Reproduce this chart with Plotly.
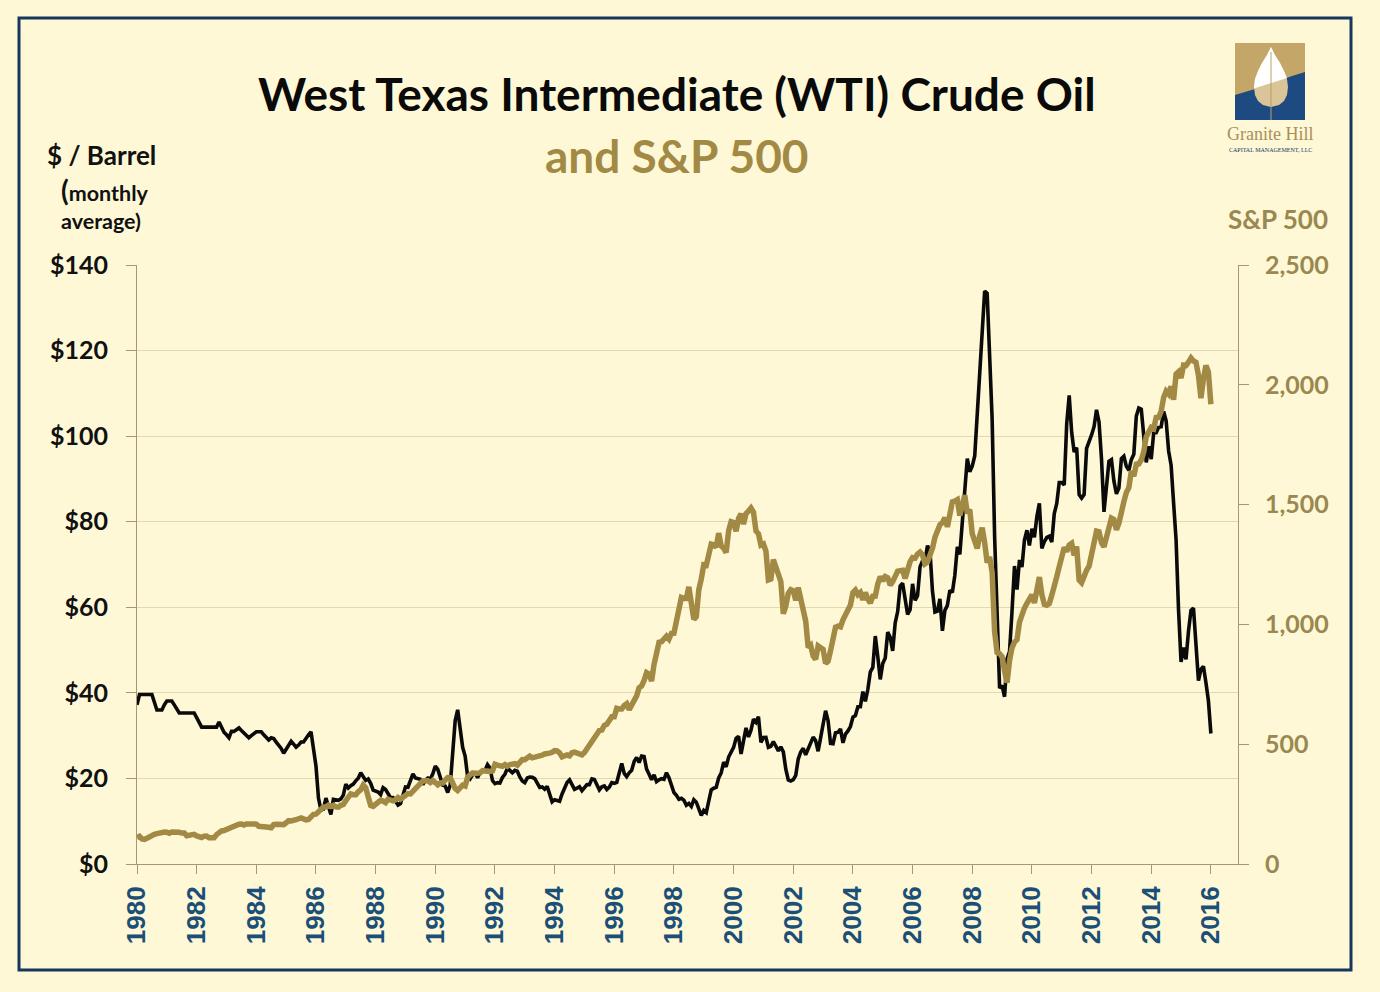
import plotly.graph_objects as go

# ---------------- data (monthly, Jan 1980 .. Jan 2016) ----------------
wti_1980s = [
    37.2, 39.6, 39.6, 39.6, 39.6, 39.6, 39.6, 37.8, 36.0, 36.0, 36.0, 37.2,
    38.1, 38.1, 38.1, 37.2, 36.2, 35.3, 35.3, 35.3, 35.3, 35.3, 35.3, 35.3,
    34.2, 33.0, 32.0, 32.0, 32.0, 32.0, 32.0, 32.0, 32.0, 33.2, 31.8, 30.8,
    30.2, 29.5, 31.0, 31.0, 31.4, 31.8, 31.2, 30.6, 30.0, 29.5, 30.0, 30.5,
    30.9, 30.9, 30.9, 30.2, 29.6, 29.0, 29.5, 29.3, 28.5, 27.8, 27.0, 25.9,
    26.8, 28.0, 28.7, 28.0, 27.3, 27.8, 28.5, 28.5, 29.5, 30.2, 30.9, 27.5,
    22.9, 15.4, 12.6, 12.8, 15.4, 13.5, 11.6, 15.1, 14.9, 14.9, 15.2, 16.1,
    18.65, 17.75, 18.3, 18.68, 19.44, 20.07, 21.34, 20.31, 19.53, 19.86, 18.85, 17.28,
    17.13, 16.8, 16.2, 17.86, 17.42, 16.53, 15.5, 15.52, 14.54, 13.77, 14.14, 16.38,
    18.02, 17.94, 19.48, 21.07, 20.12, 20.05, 19.78, 18.58, 19.59, 20.1, 19.86, 21.1,
]
wti_1990s = [
    22.86, 22.11, 20.39, 18.43, 18.2, 16.7, 18.45, 27.31, 33.51, 36.04, 32.33, 27.28,
    25.23, 20.48, 19.9, 20.83, 21.23, 20.19, 21.4, 21.69, 21.89, 23.23, 22.46, 19.5,
    18.79, 19.01, 18.92, 20.23, 20.98, 22.39, 21.78, 21.34, 21.88, 21.69, 20.34, 19.41,
    19.03, 20.09, 20.32, 20.25, 19.95, 19.09, 17.89, 18.01, 17.5, 18.15, 16.61, 14.52,
    15.03, 14.78, 14.66, 16.38, 17.89, 19.06, 19.66, 18.38, 17.45, 17.72, 18.07, 17.16,
    18.04, 18.57, 18.54, 19.9, 19.74, 18.45, 17.33, 18.02, 18.23, 17.43, 17.99, 19.03,
    18.86, 19.09, 21.33, 23.5, 21.17, 20.42, 21.3, 21.9, 23.97, 24.88, 23.71, 25.23,
    25.13, 22.18, 20.97, 19.7, 20.82, 19.26, 19.66, 19.95, 19.8, 21.33, 20.19, 18.33,
    16.72, 16.06, 15.12, 15.35, 14.91, 13.72, 14.17, 13.47, 15.03, 14.46, 13.0, 11.35,
    12.52, 12.01, 14.68, 17.31, 17.72, 17.92, 20.1, 21.28, 23.8, 22.69, 25.0, 26.1,
]
wti_2000s = [
    27.26, 29.37, 29.84, 25.72, 28.79, 31.82, 29.7, 31.26, 33.88, 33.11, 34.42, 28.44,
    29.59, 29.61, 27.25, 27.49, 28.63, 27.6, 26.43, 27.37, 26.2, 22.17, 19.64, 19.39,
    19.72, 20.72, 24.53, 26.18, 27.04, 25.52, 26.97, 28.39, 29.66, 28.84, 26.35, 29.46,
    32.95, 35.83, 33.51, 28.17, 28.11, 30.66, 30.76, 31.57, 28.31, 30.34, 31.11, 32.13,
    34.31, 34.69, 36.74, 36.75, 40.28, 38.03, 40.78, 44.9, 45.94, 53.28, 48.47, 43.15,
    46.84, 48.15, 54.19, 52.98, 49.83, 56.35, 59.0, 64.99, 65.59, 62.26, 58.32, 59.41,
    65.49, 61.63, 62.69, 69.44, 70.84, 70.95, 74.41, 73.04, 63.8, 58.89, 59.08, 61.96,
    54.51, 59.28, 60.44, 63.98, 63.46, 67.49, 74.12, 72.36, 79.92, 85.8, 94.77, 91.69,
    92.97, 95.39, 105.45, 112.58, 125.4, 133.88, 133.37, 116.67, 104.11, 76.61, 57.31, 41.12,
    41.71, 39.09, 47.94, 49.65, 59.03, 69.64, 64.15, 71.05, 69.41, 75.72, 77.99, 74.47,
]
wti_2010s = [
    78.33, 76.39, 81.2, 84.29, 73.74, 75.34, 76.32, 76.6, 75.24, 81.89, 84.25, 89.15,
    89.17, 88.58, 102.86, 109.53, 100.9, 96.26, 97.3, 86.33, 85.52, 86.32, 97.16, 98.56,
    100.27, 102.2, 106.16, 103.32, 94.66, 82.3, 87.9, 94.13, 94.51, 89.49, 86.53, 87.86,
    94.76, 95.31, 92.94, 92.02, 94.51, 95.77, 104.67, 106.57, 106.29, 100.54, 93.86, 97.63,
    94.62, 100.82, 100.8, 102.07, 102.18, 105.79, 103.59, 96.54, 93.21, 84.4, 75.79, 59.29,
    47.22, 50.58, 47.82, 54.45, 59.27, 59.82, 50.9, 42.87, 45.48, 46.22, 42.44, 38.2,
    30.5,
]

sp_1980s = [
    110.9, 115.3, 104.7, 103.0, 107.7, 114.6, 119.8, 123.5, 126.5, 130.2, 135.7, 133.5,
    133.0, 128.4, 133.2, 134.4, 131.7, 132.3, 129.1, 129.6, 118.3, 119.8, 122.9, 123.8,
    117.3, 114.5, 110.8, 116.3, 116.4, 109.7, 109.4, 109.7, 122.4, 132.7, 138.1, 139.4,
    144.3, 146.8, 151.9, 157.7, 164.1, 166.4, 167.0, 162.4, 167.2, 167.7, 165.2, 164.4,
    166.4, 157.3, 157.4, 157.6, 156.6, 153.1, 151.1, 164.4, 166.1, 164.8, 166.3, 164.5,
    171.6, 180.9, 179.4, 180.6, 184.9, 188.9, 192.5, 188.3, 184.1, 186.2, 197.5, 207.3,
    208.2, 219.4, 232.3, 238.0, 238.5, 245.3, 240.2, 245.0, 238.3, 237.4, 245.1, 248.6,
    264.5, 280.9, 292.5, 289.3, 289.1, 301.4, 310.1, 329.4, 318.7, 280.2, 245.0, 241.0,
    250.5, 258.1, 265.7, 262.6, 256.1, 270.7, 269.1, 263.7, 268.0, 277.4, 271.0, 276.5,
    285.4, 294.0, 292.7, 302.3, 313.9, 323.7, 331.9, 346.6, 347.3, 347.4, 340.2, 348.6,
]
sp_1990s = [
    340.0, 330.5, 338.5, 338.2, 350.3, 360.4, 360.0, 330.8, 315.4, 307.1, 315.3, 328.8,
    325.5, 362.3, 372.3, 379.7, 378.0, 378.3, 380.2, 389.4, 387.2, 386.9, 385.9, 388.5,
    416.1, 412.6, 407.4, 407.4, 414.8, 408.3, 415.1, 417.9, 418.5, 412.5, 422.8, 435.6,
    435.2, 441.7, 450.2, 443.1, 445.3, 448.1, 447.3, 454.1, 459.2, 463.9, 462.9, 466.0,
    473.0, 471.6, 463.8, 447.2, 450.9, 454.8, 451.4, 464.2, 467.0, 463.8, 461.0, 455.2,
    465.3, 481.9, 493.2, 507.9, 523.8, 539.4, 557.4, 559.1, 578.8, 582.9, 595.5, 614.6,
    614.4, 649.5, 647.1, 647.2, 661.2, 668.5, 644.1, 662.7, 674.9, 701.5, 735.7, 743.3,
    766.2, 798.4, 792.2, 763.9, 833.1, 876.3, 925.3, 927.7, 937.0, 951.2, 938.9, 962.4,
    963.4, 1023.7, 1076.8, 1112.2, 1108.4, 1108.4, 1156.6, 1074.6, 1020.6, 1032.5, 1144.4, 1190.1,
    1248.8, 1246.6, 1281.7, 1334.8, 1332.1, 1322.6, 1381.0, 1327.5, 1318.2, 1300.0, 1391.0, 1428.7,
]
sp_2000s = [
    1425.6, 1388.9, 1442.2, 1461.4, 1418.5, 1462.0, 1473.0, 1485.5, 1468.1, 1390.1, 1378.0, 1330.9,
    1335.6, 1305.8, 1185.9, 1189.8, 1270.4, 1238.7, 1204.5, 1178.5, 1044.6, 1076.6, 1129.7, 1144.9,
    1140.2, 1100.7, 1153.8, 1112.0, 1079.3, 1014.0, 903.6, 912.6, 867.8, 854.6, 909.9, 899.2,
    895.8, 837.6, 846.6, 890.0, 936.0, 988.0, 992.5, 989.5, 1019.4, 1038.7, 1049.9, 1080.6,
    1132.5, 1143.4, 1124.0, 1133.1, 1102.8, 1132.8, 1105.9, 1088.9, 1117.7, 1118.1, 1168.9, 1199.2,
    1181.4, 1199.6, 1194.9, 1164.4, 1178.3, 1202.3, 1222.2, 1224.3, 1225.9, 1192.0, 1237.4, 1262.1,
    1278.7, 1276.7, 1293.7, 1302.2, 1290.0, 1253.1, 1260.2, 1287.2, 1317.8, 1363.4, 1388.6, 1416.4,
    1424.2, 1444.8, 1407.0, 1463.7, 1511.1, 1514.5, 1520.7, 1454.6, 1497.1, 1539.7, 1463.4, 1479.2,
    1378.8, 1354.9, 1316.9, 1370.5, 1403.2, 1341.3, 1257.3, 1281.5, 1217.0, 968.8, 883.0, 877.6,
    865.6, 805.2, 757.1, 848.2, 902.4, 926.1, 935.8, 1009.7, 1044.6, 1067.7, 1088.1, 1110.4,
]
sp_2010s = [
    1123.6, 1089.2, 1152.0, 1197.3, 1125.1, 1083.4, 1079.8, 1087.3, 1122.1, 1171.6, 1198.9, 1241.5,
    1282.6, 1321.1, 1304.5, 1331.5, 1338.3, 1287.3, 1325.2, 1185.3, 1173.9, 1207.2, 1226.4, 1243.3,
    1300.6, 1352.5, 1389.2, 1386.4, 1341.3, 1323.5, 1359.8, 1403.4, 1443.4, 1437.8, 1394.5, 1422.3,
    1480.4, 1512.3, 1550.8, 1570.7, 1639.8, 1618.8, 1668.7, 1670.1, 1687.2, 1720.0, 1783.5, 1807.8,
    1822.4, 1817.0, 1863.5, 1864.3, 1889.8, 1947.1, 1973.1, 1961.5, 1993.2, 1937.3, 2044.6, 2054.3,
    2028.2, 2082.2, 2080.6, 2094.9, 2111.9, 2099.3, 2094.1, 2039.9, 1944.4, 2024.8, 2080.6, 2054.1,
    1918.6,
]

year_ticks = list(range(1980, 2017, 2))
year_labels = [str(y) for y in year_ticks]
oil_ticks = [0, 20, 40, 60, 80, 100, 120, 140]
oil_labels = ["$0", "$20", "$40", "$60", "$80", "$100", "$120", "$140"]
sp_ticks = [0, 500, 1000, 1500, 2000, 2500]
sp_labels = ["0", "500", "1,000", "1,500", "2,000", "2,500"]

wti = wti_1980s + wti_1990s + wti_2000s + wti_2010s
sp500 = sp_1980s + sp_1990s + sp_2000s + sp_2010s
months = [1980 + i / 12 for i in range(len(wti))]

# ---------------- style ----------------
BG = "#FEF8D6"
GOLD = "#A28A45"
NAVY = "#17375E"
AXIS = "#A59874"
GRID = "#E2D8B2"
FONT = "Lato"

L, R, T, B = 137, 1238, 265, 864


def X(px):
    return (px - L) / (R - L)


def Y(py):
    return (B - py) / (B - T)


fig = go.Figure()
fig.add_trace(go.Scatter(x=months, y=sp500, yaxis="y2", mode="lines",
                         line=dict(color=GOLD, width=5.5), name="S&P 500"))
fig.add_trace(go.Scatter(x=months, y=wti, yaxis="y", mode="lines",
                         line=dict(color="#0A0A0A", width=3.6), name="WTI"))

fig.update_layout(
    width=1380, height=992,
    margin=dict(l=L, r=1380 - R, t=T, b=992 - B),
    paper_bgcolor=BG, plot_bgcolor=BG,
    showlegend=False,
    xaxis=dict(range=[1980, 1980 + (R - L) / 29.83], tickvals=year_ticks, ticktext=year_labels,
               tickangle=-90, ticks="outside", ticklen=9, tickcolor=AXIS, showline=True,
               linecolor=AXIS, linewidth=1, showgrid=False, zeroline=False,
               tickfont=dict(family="Liberation Sans", size=26, color="#1B4F77", weight="bold"),
               ticklabelstandoff=2),
    yaxis=dict(range=[0, 140], tickvals=oil_ticks, ticktext=oil_labels, ticks="outside",
               ticklen=10, tickcolor=AXIS, showline=True, linecolor=AXIS, linewidth=1,
               showgrid=True, gridcolor=GRID, gridwidth=1, zeroline=False,
               tickfont=dict(family=FONT, size=25, color="#111111", weight="bold"),
               ticklabelstandoff=13),
    yaxis2=dict(range=[0, 2500], tickvals=sp_ticks, ticktext=sp_labels, overlaying="y",
                side="right", ticks="outside", ticklen=10, tickcolor=AXIS, showline=True,
                linecolor=AXIS, linewidth=1, showgrid=False, zeroline=False,
                tickfont=dict(family=FONT, size=25, color="#9A8850", weight="bold"),
                ticklabelstandoff=11),
)

ann = [
    dict(text="West Texas Intermediate (WTI) Crude Oil", x=X(677), y=Y(93),
         font=dict(family=FONT, size=46, color="#0A0A0A", weight="bold")),
    dict(text="and S&P 500", x=X(677), y=Y(155),
         font=dict(family=FONT, size=46, color=GOLD, weight="bold")),
    dict(text="$ / Barrel", x=X(101), y=Y(155),
         font=dict(family=FONT, size=26, color="#111111", weight="bold")),
    dict(text="<span style='font-size:28px'>(</span>monthly", x=X(104), y=Y(190),
         font=dict(family=FONT, size=21.5, color="#111111", weight="bold")),
    dict(text="average)", x=X(101), y=Y(221),
         font=dict(family=FONT, size=21.5, color="#111111", weight="bold")),
    dict(text="S&P 500", x=X(1278), y=Y(219),
         font=dict(family=FONT, size=26, color="#9A8850", weight="bold")),
    dict(text="Granite Hill", x=X(1270), y=Y(134),
         font=dict(family="Liberation Serif", size=18, color="#A8905A")),
    dict(text="CAPITAL MANAGEMENT, LLC", x=X(1270), y=Y(150),
         font=dict(family="Liberation Serif", size=6, color=NAVY)),
]
for a in ann:
    a.update(xref="paper", yref="paper", showarrow=False, xanchor="center", yanchor="middle")
fig.update_layout(annotations=ann)


def poly(points):
    return "M " + " L ".join(f"{X(px):.5f},{Y(py):.5f}" for px, py in points) + " Z"


# page frame
fig.add_shape(type="rect", xref="paper", yref="paper", x0=X(19), x1=X(1351), y0=Y(970), y1=Y(18),
              line=dict(color=NAVY, width=3), fillcolor="rgba(0,0,0,0)", layer="above")
# logo
fig.add_shape(type="rect", xref="paper", yref="paper", x0=X(1235), x1=X(1305), y0=Y(120), y1=Y(43),
              line=dict(width=0), fillcolor="#C4A768", layer="above")
fig.add_shape(type="path", xref="paper", yref="paper",
              path=poly([(1235, 95), (1255, 89), (1275, 82), (1292, 76), (1305, 72),
                         (1305, 120), (1235, 120)]),
              line=dict(width=0), fillcolor="#1D4A80", layer="above")
fig.add_shape(type="path", xref="paper", yref="paper",
              path=poly([(1271, 47), (1275, 55), (1280, 63), (1284, 71), (1287, 79),
                         (1288, 87), (1287, 95), (1284, 101), (1279, 105), (1271, 107),
                         (1263, 105), (1258, 101), (1255, 95), (1254, 87), (1255, 79),
                         (1258, 71), (1262, 63), (1267, 55)]),
              line=dict(width=0), fillcolor="#D9C597", layer="above")
fig.add_shape(type="path", xref="paper", yref="paper",
              path=poly([(1271, 47), (1275, 55), (1280, 63), (1284, 71), (1287, 78),
                         (1254, 88.5), (1254, 87), (1255, 79), (1258, 71), (1262, 63),
                         (1267, 55)]),
              line=dict(width=0), fillcolor="#FFFFFF", layer="above")
fig.add_shape(type="line", xref="paper", yref="paper", x0=X(1271), x1=X(1271), y0=Y(52), y1=Y(120),
              line=dict(color="#B8A06A", width=1), layer="above")

fig.write_html(
    "out.html",
    config={"displayModeBar": False},
    post_script="document.body.style.margin='0';document.body.style.background='%s';" % BG,
)
